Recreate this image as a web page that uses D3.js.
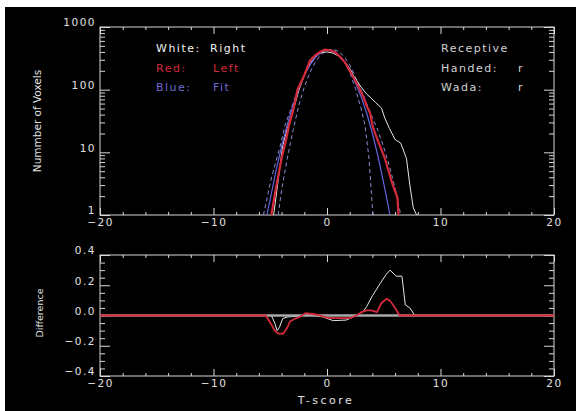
<!DOCTYPE html>
<html>
<head>
<meta charset="utf-8">
<script src="https://cdn.jsdelivr.net/npm/d3@7"></script>
<style>
  body { margin: 0; background: #fff; }
  text { font-family: "DejaVu Sans", sans-serif; font-size: 11px; fill: #e0e0e0; }
  .tick text { letter-spacing: 1.5px; font-size: 10.5px; }
</style>
</head>
<body>
<div id="chart"></div>
<script>
// tick labels
const xTicks = [-20, -10, 0, 10, 20]
const yTicksTop = [1, 10, 100, 1000]
const yTicksBottom = [-0.4, -0.2, 0.0, 0.2, 0.4]

// histogram, right hemisphere (white)
const rightT = [-4.7, -4.3, -3.9, -3.5, -3, -2.5, -2, -1.5, -1, -0.5, 0, 0.5, 1, 1.5, 2, 2.4, 3, 3.5, 3.8, 4.3, 4.8, 5.1, 5.5, 6.0, 6.5, 7.0, 7.3, 7.6, 7.9]
const rightN = [1, 3.6, 13, 24, 45, 95, 170, 260, 340, 390, 400, 385, 345, 290, 220, 160, 110, 85, 76, 62, 51, 35, 24, 16, 14, 8, 3, 1.3, 1]

// histogram, left hemisphere (red)
const leftT = [-4.9, -4.5, -4, -3.6, -3.35, -3, -2.6, -2, -1.5, -1, -0.5, -0.2, 0.3, 0.7, 1.15, 1.6, 2, 2.3, 2.7, 3.2, 3.5, 3.8, 4.05, 4.5, 5.1, 5.5, 5.8, 6.2, 6.3]
const leftN = [1, 2.7, 8, 16, 27, 45, 100, 170, 290, 360, 410, 435, 425, 395, 335, 270, 200, 161, 120, 77, 55, 42, 25, 15, 8, 4.5, 3, 1.9, 1]

// fit (blue)
const fitT = [-5.3, -5, -4.5, -4, -3.5, -3, -2.5, -2, -1.5, -1, -0.5, 0, 0.5, 1, 1.5, 2, 2.5, 3, 3.5, 4, 4.5, 5, 5.55]
const fitN = [1, 1.8, 5, 12.4, 27.7, 56, 102, 168, 248, 332, 400, 434, 415, 350, 280, 205, 130, 78, 42, 20, 8.5, 3.2, 1]

// dashed bounds
const boundAT = [-5.6, -4.9, -4.1, -3.7, -3, -2.5, -2, -1.5, -1, -0.5, 0, 0.5, 1, 1.5, 2, 2.5, 3, 3.35, 3.7, 4.05]
const boundAN = [1, 3.9, 13, 27, 60, 110, 170, 250, 330, 400, 440, 430, 370, 290, 190, 105, 50, 27, 8, 1]
const boundBT = [-4.3, -4, -3.5, -3, -2.5, -2, -1.5, -1, -0.5, 0, 0.5, 1, 1.5, 2, 2.5, 3, 3.5, 4, 4.5, 5, 5.5, 6, 6.5]
const boundBN = [1, 2.5, 8, 22, 55, 110, 190, 280, 370, 420, 440, 410, 340, 250, 160, 100, 60, 36, 22, 12, 6, 2.7, 1]

// difference panel
const diffRightT = [-20, -4.9, -4.6, -4.4, -4.2, -3.9, -3.5, -2.7, -1.5, -0.35, 0.55, 1.7, 2.6, 3.2, 3.5, 4.0, 4.67, 5.2, 5.55, 6.1, 6.6, 6.9, 7.3, 7.75, 20]
const diffRightD = [0, 0, -0.05, -0.1, -0.08, -0.02, -0.01, -0.005, 0.005, -0.01, -0.034, -0.03, 0, 0.027, 0.06, 0.13, 0.21, 0.27, 0.3, 0.26, 0.26, 0.07, 0.05, 0, 0]
const diffLeftT = [-20, -5.4, -4.9, -4.6, -4.3, -3.85, -3.5, -3.26, -2.8, -2.4, -1.9, -1.3, -0.9, 0, 0.85, 2.0, 2.6, 3.05, 3.5, 3.9, 4.4, 4.8, 5.26, 5.5, 5.7, 6.0, 6.4, 20]
const diffLeftD = [0, 0, -0.06, -0.1, -0.12, -0.12, -0.08, -0.04, -0.02, -0.01, 0.016, 0.01, 0.005, -0.014, -0.018, -0.018, 0, 0.022, 0.034, 0.034, 0.022, 0.083, 0.11, 0.1, 0.083, 0.05, 0, 0]

const W = 576, H = 411
const axisColor = "#d8d8d8"
const red = "#d42a3c", blue = "#6464dc", dashBlue = "#8c8cd4", white = "#e6e6e6"

const svg = d3.select("#chart").append("svg")
  .attr("width", W)
  .attr("height", H)

svg.append("rect")
  .attr("x", 5).attr("y", 7)
  .attr("width", W - 5).attr("height", H - 7)
  .attr("fill", "#000")

const x = d3.scaleLinear().domain([-20, 20]).range([100, 554])
const yTop = d3.scaleLog().domain([1, 1000]).range([215, 27])
const yBot = d3.scaleLinear().domain([-0.4, 0.4]).range([376, 255])

const xMinor = d3.range(-20, 21, 2).filter(v => v % 10 !== 0)

function drawAxis(axis, tx, ty, labelDy) {
  const g = svg.append("g")
    .attr("transform", `translate(${tx},${ty})`)
    .attr("color", axisColor)
    .call(axis)
    .call(g => g.select(".domain").remove())
  if (labelDy) g.selectAll(".tick text").attr("dy", labelDy)
}

function xAxes(y0, y1) {
  drawAxis(d3.axisBottom(x).tickValues(xTicks).tickSize(-7).tickPadding(4).tickFormat(d3.format("d")), 0, y1)
  drawAxis(d3.axisBottom(x).tickValues(xMinor).tickSize(-3).tickFormat(""), 0, y1)
  drawAxis(d3.axisTop(x).tickValues(xTicks).tickSize(-7).tickFormat(""), 0, y0)
  drawAxis(d3.axisTop(x).tickValues(xMinor).tickSize(-3).tickFormat(""), 0, y0)
}

function frame(y0, y1) {
  svg.append("rect")
    .attr("x", 100).attr("y", y0)
    .attr("width", 454).attr("height", y1 - y0)
    .attr("fill", "none")
    .attr("stroke", axisColor)
    .attr("stroke-width", 1)
}

// ---- top panel ----
const logMinor = []
for (let e = 0; e < 3; e++) for (let k = 2; k < 10; k++) logMinor.push(k * Math.pow(10, e))

xAxes(27, 215)
drawAxis(d3.axisLeft(yTop).tickValues(yTicksTop).tickSize(-10).tickPadding(4).tickFormat(d3.format("d")), 100, 0, "-0.1em")
drawAxis(d3.axisLeft(yTop).tickValues(logMinor).tickSize(-5).tickFormat(""), 100, 0)
drawAxis(d3.axisRight(yTop).tickValues(yTicksTop).tickSize(-10).tickFormat(""), 554, 0)
drawAxis(d3.axisRight(yTop).tickValues(logMinor).tickSize(-5).tickFormat(""), 554, 0)
frame(27, 215)

const lineTop = d3.line().x(d => x(d[0])).y(d => yTop(d[1]))

const topPanel = svg.append("g")
topPanel.append("path").datum(d3.zip(boundAT, boundAN))
  .attr("d", lineTop).attr("fill", "none").attr("stroke", dashBlue)
  .attr("stroke-width", 1).attr("stroke-dasharray", "4,3")
topPanel.append("path").datum(d3.zip(boundBT, boundBN))
  .attr("d", lineTop).attr("fill", "none").attr("stroke", dashBlue)
  .attr("stroke-width", 1).attr("stroke-dasharray", "4,3")
topPanel.append("path").datum(d3.zip(rightT, rightN))
  .attr("d", lineTop).attr("fill", "none").attr("stroke", white).attr("stroke-width", 1)
topPanel.append("path").datum(d3.zip(fitT, fitN))
  .attr("d", lineTop).attr("fill", "none").attr("stroke", blue).attr("stroke-width", 1.2)
topPanel.append("path").datum(d3.zip(leftT, leftN))
  .attr("d", lineTop).attr("fill", "none").attr("stroke", red).attr("stroke-width", 2.2)

// legend
const legend = svg.append("g").style("letter-spacing", "1.5px")
legend.append("text").attr("x", 156).attr("y", 52).style("fill", "#f0f0f0").text("White:")
legend.append("text").attr("x", 210).attr("y", 52).style("fill", "#f0f0f0").text("Right")
legend.append("text").attr("x", 156).attr("y", 72).style("fill", red).text("Red:")
legend.append("text").attr("x", 213).attr("y", 72).style("fill", red).text("Left")
legend.append("text").attr("x", 156).attr("y", 91).style("fill", "#6c6cd0").text("Blue:")
legend.append("text").attr("x", 213).attr("y", 91).style("fill", "#6c6cd0").text("Fit")

legend.append("text").attr("x", 441).attr("y", 52).style("fill", "#d4d4d4").text("Receptive")
legend.append("text").attr("x", 441).attr("y", 72).style("fill", "#d4d4d4").text("Handed:")
legend.append("text").attr("x", 518).attr("y", 72).style("fill", "#d4d4d4").text("r")
legend.append("text").attr("x", 441).attr("y", 91).style("fill", "#d4d4d4").text("Wada:")
legend.append("text").attr("x", 518).attr("y", 91).style("fill", "#d4d4d4").text("r")

svg.append("text")
  .attr("transform", "translate(41,121) rotate(-90)")
  .attr("text-anchor", "middle")
  .style("font-size", "10.5px")
  .text("Nummber of Voxels")

// ---- bottom panel ----
const yMinorBot = d3.range(-0.4, 0.401, 0.05).filter(v => Math.abs(Math.round(v * 100)) % 20 !== 0)

xAxes(255, 376)
drawAxis(d3.axisLeft(yBot).tickValues(yTicksBottom).tickSize(-10).tickPadding(4).tickFormat(d3.format(".1f")), 100, 0, "-0.1em")
drawAxis(d3.axisLeft(yBot).tickValues(yMinorBot).tickSize(-5).tickFormat(""), 100, 0)
drawAxis(d3.axisRight(yBot).tickValues(yTicksBottom).tickSize(-10).tickFormat(""), 554, 0)
drawAxis(d3.axisRight(yBot).tickValues(yMinorBot).tickSize(-5).tickFormat(""), 554, 0)
frame(255, 376)

const lineBot = d3.line().x(d => x(d[0])).y(d => yBot(d[1]))

svg.append("path").datum(d3.zip(diffRightT, diffRightD))
  .attr("d", lineBot).attr("fill", "none").attr("stroke", white).attr("stroke-width", 1)
svg.append("line")
  .attr("x1", x(-20)).attr("x2", x(20))
  .attr("y1", yBot(0)).attr("y2", yBot(0))
  .attr("stroke", "#a8a8a8").attr("stroke-width", 2.5)
svg.append("path").datum(d3.zip(diffLeftT, diffLeftD))
  .attr("d", lineBot).attr("fill", "none").attr("stroke", red).attr("stroke-width", 1.8)

svg.append("text")
  .attr("transform", "translate(43,313) rotate(-90)")
  .attr("text-anchor", "middle")
  .style("font-size", "9.5px")
  .text("Difference")

svg.append("text")
  .attr("x", 326).attr("y", 404)
  .attr("text-anchor", "middle")
  .style("letter-spacing", "2.5px")
  .text("T-score")
</script>
</body>
</html>
